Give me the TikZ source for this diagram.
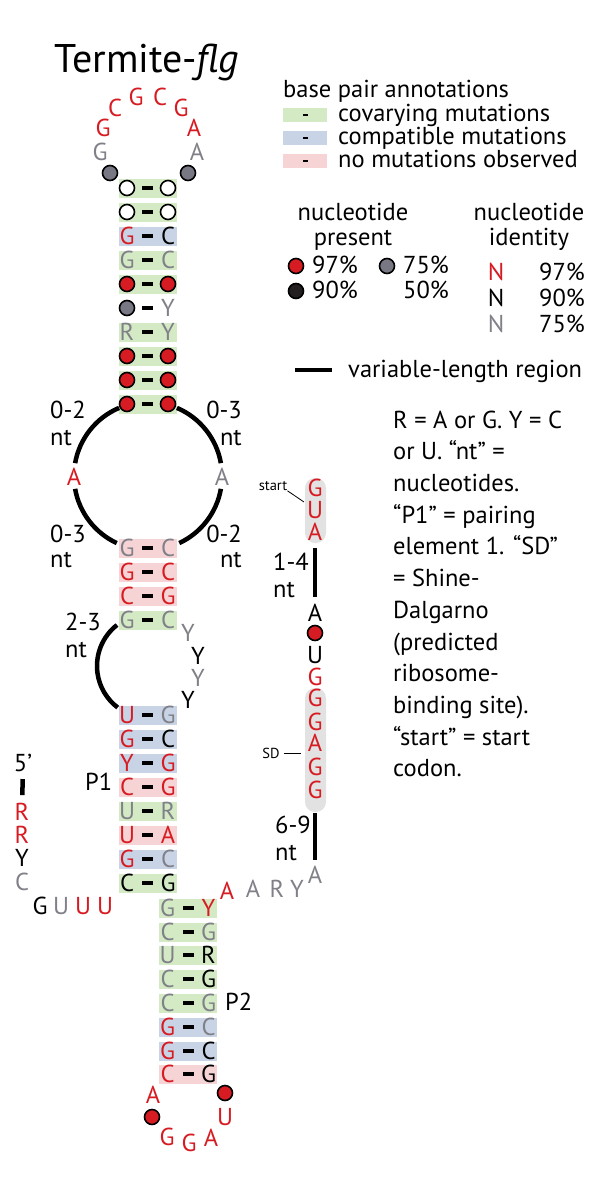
\documentclass[tikz,border=0pt]{standalone}
\usepackage{fontspec}
\setmainfont{PT Sans}
\usepackage{tikz}
\usetikzlibrary{positioning,calc}
\definecolor{NucRed}{RGB}{214,28,34}
\definecolor{NucGray}{RGB}{128,128,136}
\definecolor{DotGray}{RGB}{120,120,132}
\definecolor{DotBlack}{RGB}{35,31,32}
\definecolor{CovGreen}{RGB}{212,234,196}
\definecolor{CompBlue}{RGB}{200,212,230}
\definecolor{NoMutPink}{RGB}{246,212,214}
\definecolor{BoxGray}{RGB}{226,226,226}
\newcommand{\ntfont}{\fontsize{24.5}{29}\selectfont}
\newcommand{\smfont}{\fontsize{14.5}{16}\selectfont}
\tikzset{
  nuc/.style={inner sep=0pt,font=\ntfont},
  nr/.style={nuc,text=NucRed},
  nk/.style={nuc,text=black},
  ng/.style={nuc,text=NucGray},
  dotc/.style={circle,draw=black,line width=1.6pt,minimum size=15pt,inner sep=0pt},
  cr/.style={dotc,fill=NucRed},
  ck/.style={dotc,fill=DotBlack},
  cg/.style={dotc,fill=DotGray},
  cw/.style={dotc,fill=white},
  bar/.style={fill=black,inner sep=0pt,minimum width=11pt,minimum height=4.5pt},
  lgbar/.style={fill=black,inner sep=0pt,minimum width=5pt,minimum height=1.6pt},
  cov/.style={fill=CovGreen},
  comp/.style={fill=CompBlue},
  nomut/.style={fill=NoMutPink},
  nobg/.style={fill=none},
  varline/.style={line width=4.5pt},
  lbl/.style={inner sep=0pt,font=\ntfont,anchor=base west},
}
% one base pair: name, x, y, background, left style, left text, right style, right text
\newcommand{\bprow}[8]{%
  \fill[#4] (#2-29,#3-9.5) rectangle (#2+29,#3+9.5);
  \node[#5] (#1l) at (#2-20.5,#3) {#6};
  \node[#7] (#1r) at (#2+20.5,#3) {#8};
  \node[bar] (#1m) at (#2,#3) {};
}

\begin{document}
\begin{tikzpicture}[x=1pt,y=-1pt]
\useasboundingbox (0,0) rectangle (600,1200);
\node[inner sep=0pt,anchor=base,font=\fontsize{40}{46}\selectfont] (title) at (147,72) {Termite-\textit{flg}};

% terminal loop
\node[cg] (h1) at (110,173) {};
\node[ng] (h2) at (100,152) {G};
\node[nr] (h3) at (103,128) {G};
\node[nr] (h4) at (115,108) {C};
\node[nr] (h5) at (136,97) {G};
\node[nr] (h6) at (160,97) {C};
\node[nr] (h7) at (181,108) {G};
\node[nr] (h8) at (194,128) {A};
\node[ng] (h9) at (197,152) {A};
\node[cg] (h10) at (188,173) {};

% upper stem
\bprow{s1}{147.5}{188}{cov}{cw}{}{cw}{}
\bprow{s2}{147.5}{212}{cov}{cw}{}{cw}{}
\bprow{s3}{147.5}{236}{comp}{nr}{G}{nk}{C}
\bprow{s4}{147.5}{260}{cov}{ng}{G}{ng}{C}
\bprow{s5}{147.5}{284}{cov}{cr}{}{cr}{}
\bprow{s6}{147.5}{308}{nobg}{cg}{}{ng}{Y}
\bprow{s7}{147.5}{332}{cov}{ng}{R}{ng}{Y}
\bprow{s8}{147.5}{356}{cov}{cr}{}{cr}{}
\bprow{s9}{147.5}{380}{cov}{cr}{}{cr}{}
\bprow{s10}{147.5}{404}{cov}{cr}{}{cr}{}

% internal loop
\coordinate (ilc) at (148,476);
\node[nr] (ia) at (74,477) {A};
\node[ng] (ib) at (222,477) {A};
\draw[varline] ([shift={(-113:74)}]ilc) arc[start angle=-113,end angle=-170,radius=74];
\draw[varline] ([shift={(-190:74)}]ilc) arc[start angle=-190,end angle=-245,radius=74];
\draw[varline] ([shift={(-67:74)}]ilc) arc[start angle=-67,end angle=-10,radius=74];
\draw[varline] ([shift={(10:74)}]ilc) arc[start angle=10,end angle=65,radius=74];
\node[lbl] (ltl) at (50,418) {0-2};
\node[lbl] (ltln) at (50,445) {nt};
\node[lbl,anchor=base east] (ltr) at (242,418) {0-3};
\node[lbl,anchor=base east] (ltrn) at (242,445) {nt};
\node[lbl] (lbl) at (50,542) {0-3};
\node[lbl] (lbln) at (50,567) {nt};
\node[lbl,anchor=base east] (lbr) at (242,542) {0-2};
\node[lbl,anchor=base east] (lbrn) at (242,567) {nt};

% middle stem
\bprow{m1}{147.5}{548}{nomut}{ng}{G}{ng}{C}
\bprow{m2}{147.5}{572}{nomut}{nr}{G}{nr}{C}
\bprow{m3}{147.5}{596}{nomut}{nr}{C}{nr}{G}
\bprow{m4}{147.5}{620}{cov}{ng}{G}{ng}{C}

% bulge
\coordinate (llc) at (149,666);
\draw[varline] ([shift={(-128:52)}]llc) arc[start angle=-128,end angle=-233,radius=52];
\node[lbl] (l23) at (65,630) {2-3};
\node[lbl] (l23n) at (65,657) {nt};
\node[ng] (y1) at (188,633) {Y};
\node[nk] (y2) at (198,656) {Y};
\node[ng] (y3) at (198,678) {Y};
\node[nk] (y4) at (188,700) {Y};

% P1
\bprow{p1}{147.5}{715}{comp}{nr}{U}{ng}{G}
\bprow{p2}{147.5}{739}{comp}{nr}{G}{nk}{C}
\bprow{p3}{147.5}{763}{comp}{nr}{Y}{nr}{G}
\bprow{p4}{147.5}{787}{nomut}{nr}{C}{nr}{G}
\bprow{p5}{147.5}{811}{cov}{ng}{U}{ng}{R}
\bprow{p6}{147.5}{835}{nomut}{nr}{U}{nr}{A}
\bprow{p7}{147.5}{859}{comp}{nr}{G}{ng}{C}
\bprow{p8}{147.5}{883}{cov}{nk}{C}{nk}{G}
\node[lbl] (pone) at (85,790) {P1};

% 5' end
\node[nk] (five) at (23,763) {5’};
\node[nr] (f1) at (22,812) {R};
\node[nr] (f2) at (22,835) {R};
\node[nk] (f3) at (22,858) {Y};
\node[ng] (f4) at (22,882) {C};
\node[nk] (f5) at (40,906) {G};
\node[ng] (f6) at (61,906) {U};
\node[nr] (f7) at (83,906) {U};
\node[nr] (f8) at (105,906) {U};
\draw[varline,shorten <=7pt,shorten >=8pt] (five) -- (f1);

% linker to P2
\node[nr] (j1) at (227,891) {A};
\node[ng] (j2) at (253,889) {A};
\node[ng] (j3) at (277,889) {R};
\node[ng] (j4) at (297,889) {Y};
\node[ng] (j5) at (315,875) {A};

% P2
\bprow{t1}{188}{908}{cov}{ng}{G}{nr}{Y}
\bprow{t2}{188}{932}{cov}{ng}{C}{ng}{G}
\bprow{t3}{188}{955}{cov}{ng}{U}{nk}{R}
\bprow{t4}{188}{979}{cov}{ng}{C}{nk}{G}
\bprow{t5}{188}{1003}{cov}{ng}{C}{ng}{G}
\bprow{t6}{188}{1027}{comp}{nr}{G}{ng}{C}
\bprow{t7}{188}{1051}{comp}{nr}{G}{nk}{C}
\bprow{t8}{188}{1074}{nomut}{nr}{C}{nk}{G}
\node[lbl] (ptwo) at (225,1010) {P2};
\node[cr] (k1) at (225,1093) {};
\node[nr] (k2) at (225,1117) {U};
\node[nr] (k3) at (211,1138) {A};
\node[nr] (k4) at (189,1143) {G};
\node[nr] (k5) at (167,1137) {G};
\node[cr] (k6) at (152,1117) {};
\node[nr] (k7) at (153,1095) {A};

% start codon and SD strand
\fill[BoxGray,rounded corners=10pt] (305,478) rectangle (326,543);
\fill[BoxGray,rounded corners=10pt] (305,688) rectangle (326,812);
\node[nr] (g1) at (315,488) {G};
\node[nr] (g2) at (315,510) {U};
\node[nr] (g3) at (315,532) {A};
\node[nk] (g4) at (315,613) {A};
\node[cr] (g5) at (315,633) {};
\node[nk] (g6) at (315,655) {U};
\node[nr] (g7) at (315,677) {G};
\node[nr] (g8) at (315,698) {G};
\node[nr] (g9) at (315,722) {G};
\node[nr] (g10) at (315,743) {A};
\node[nr] (g11) at (315,767) {G};
\node[nr] (g12) at (315,790) {G};
\draw[varline,line width=4pt,shorten <=7pt,shorten >=7pt] (g3) -- (g4);
\draw[varline,line width=4pt,shorten <=14pt,shorten >=6pt] (g12) -- (j5);
\node[lbl] (l14) at (273,570) {1-4};
\node[lbl] (l14n) at (273,597) {nt};
\node[lbl] (l69) at (275,833) {6-9};
\node[lbl] (l69n) at (275,860) {nt};
\node[inner sep=0pt,font=\smfont] (start) at (273,486) {start};
\coordinate (startpt) at (304,502);
\draw[line width=0.8pt] (start.south east) -- (startpt);
\node[inner sep=0pt,font=\smfont] (sd) at (271,753) {SD};
\coordinate (sdpt) at (301,753);
\draw[line width=1pt,shorten <=4pt] (sd.east) -- (sdpt);

% legend
\node[lbl] (bpa) at (283,97) {base pair annotations};
\fill[cov] (283,108) rectangle (327,122);
\fill[comp] (283,131) rectangle (327,145);
\fill[nomut] (283,154) rectangle (327,168);
\node[lgbar] (sw1) at (305,115) {};
\node[lgbar] (sw2) at (305,138) {};
\node[lgbar] (sw3) at (305,161) {};
\node[lbl] (cvm) at (338,121) {covarying mutations};
\node[lbl] (cpm) at (338,144) {compatible mutations};
\node[lbl] (nmo) at (338,167) {no mutations observed};

\node[lbl,anchor=base] (np1) at (353,220) {nucleotide};
\node[lbl,anchor=base] (np2) at (353,245) {present};
\node[cr] (d97) at (296,266) {};
\node[lbl] (t97) at (312,273) {97\%};
\node[cg] (d75) at (387,266) {};
\node[lbl] (t75) at (403,273) {75\%};
\node[ck] (d90) at (296,291) {};
\node[lbl] (t90) at (312,298) {90\%};
\node[lbl] (t50) at (403,298) {50\%};

\node[lbl,anchor=base] (ni1) at (529,220) {nucleotide};
\node[lbl,anchor=base] (ni2) at (529,245) {identity};
\node[lbl,anchor=base,text=NucRed] (nr1) at (496,280) {N};
\node[lbl,anchor=base] (nk1) at (496,306) {N};
\node[lbl,anchor=base,text=NucGray] (ng1) at (496,332) {N};
\node[lbl,anchor=base east] (i97) at (585,280) {97\%};
\node[lbl,anchor=base east] (i90) at (585,306) {90\%};
\node[lbl,anchor=base east] (i75) at (585,332) {75\%};

\coordinate (vl1) at (295,370);
\coordinate (vl2) at (332,370);
\draw[varline] (vl1) -- (vl2);
\node[lbl] (vlr) at (348,377) {variable-length region};

\node[anchor=north west,align=left,inner sep=0pt,font=\fontsize{24.5}{31.7}\selectfont] (desc) at (393,410.5)
  {R = A or G. Y = C\\or U. “nt” =\\nucleotides.\\“P1” = pairing\\element 1. “SD”\\= Shine-\\Dalgarno\\(predicted\\ribosome-\\binding site).\\“start” = start\\codon.};
\end{tikzpicture}
\end{document}
